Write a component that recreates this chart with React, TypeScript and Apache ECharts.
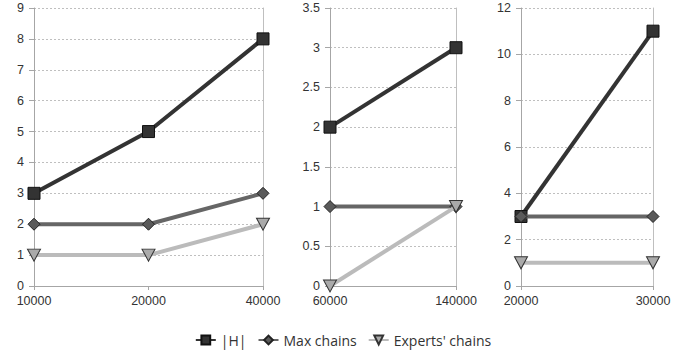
import React, { useEffect, useRef } from "react";
import * as echarts from "echarts";

const cats1 = ["10000", "20000", "40000"];
const h1 = [3, 5, 8];
const max1 = [2, 2, 3];
const exp1 = [1, 1, 2];

const cats2 = ["60000", "140000"];
const h2 = [2, 3];
const max2 = [1, 1];
const exp2 = [0, 1];

const cats3 = ["20000", "30000"];
const h3 = [3, 11];
const max3 = [3, 3];
const exp3 = [1, 1];

const names = ["|H|", "Max chains", "Experts' chains"];
const yMax = [9, 3.5, 12];
const yInterval = [1, 0.5, 2];

const grids = [
  { left: 34, top: 8, width: 229, height: 278 },
  { left: 330, top: 8, width: 126, height: 278 },
  { left: 521, top: 8, width: 132, height: 278 },
];

const tri = "path://M0,0 L12,0 L6,11 Z";

export default function App() {
  const ref = useRef<HTMLDivElement>(null);
  useEffect(() => {
    document.body.style.margin = "0";
    const chart = echarts.init(ref.current!, null, { renderer: "svg" });
    const cats = [cats1, cats2, cats3];
    const hs = [h1, h2, h3];
    const maxs = [max1, max2, max3];
    const exps = [exp1, exp2, exp3];
    const font = "Liberation Sans";
    const xAxis: any[] = [];
    const yAxis: any[] = [];
    const series: any[] = [];
    grids.forEach((g, i) => {
      xAxis.push({
        type: "category",
        gridIndex: i,
        data: cats[i],
        boundaryGap: false,
        axisLine: { lineStyle: { color: "#a6a6a6", width: 1 } },
        axisTick: { show: true, length: 4, lineStyle: { color: "#a6a6a6" } },
        axisLabel: { color: "#333333", fontSize: 12.5, fontFamily: font, margin: 8 },
        splitLine: { show: false },
      });
      yAxis.push({
        type: "value",
        gridIndex: i,
        min: 0,
        max: yMax[i],
        interval: yInterval[i],
        axisLine: { show: true, lineStyle: { color: "#a6a6a6", width: 1 } },
        axisTick: { show: true, length: 5, lineStyle: { color: "#a6a6a6" } },
        axisLabel: { color: "#333333", fontSize: 12.5, fontFamily: font, margin: 10 },
        splitLine: { show: true, lineStyle: { color: "#bfbfbf", type: [2, 2], width: 1 } },
      });
      yAxis.push({
        type: "value",
        gridIndex: i,
        position: "right",
        min: 0,
        max: yMax[i],
        interval: yInterval[i],
        axisLine: { show: true, lineStyle: { color: "#bfbfbf", width: 1 } },
        axisTick: { show: false },
        axisLabel: { show: false },
        splitLine: { show: false },
      });
      const yIdx = i * 2;
      series.push({
        name: names[0],
        type: "line",
        xAxisIndex: i,
        yAxisIndex: yIdx,
        data: hs[i],
        symbol: "rect",
        symbolSize: 12,
        lineStyle: { color: "#333333", width: 4 },
        itemStyle: { color: "#333333", borderColor: "#111111", borderWidth: 1 },
        z: 2,
      });
      series.push({
        name: names[1],
        type: "line",
        xAxisIndex: i,
        yAxisIndex: yIdx,
        data: maxs[i],
        symbol: "diamond",
        symbolSize: 12,
        lineStyle: { color: "#666666", width: 4 },
        itemStyle: { color: "#5a5a5a", borderColor: "#222222", borderWidth: 1 },
        z: 3,
      });
      series.push({
        name: names[2],
        type: "line",
        xAxisIndex: i,
        yAxisIndex: yIdx,
        data: exps[i],
        symbol: tri,
        symbolSize: [13, 12],
        lineStyle: { color: "#bbbbbb", width: 4 },
        itemStyle: { color: "#aaaaaa", borderColor: "#333333", borderWidth: 1 },
        z: 4,
      });
    });
    chart.setOption({
      animation: false,
      backgroundColor: "#ffffff",
      grid: grids,
      xAxis,
      yAxis,
      series,
      legend: {
        data: names,
        top: 328,
        left: "center",
        itemWidth: 20,
        itemHeight: 11,
        itemGap: 11,
        textStyle: { color: "#333333", fontSize: 14, fontFamily: "Open Sans" },
      },
    });
    return () => chart.dispose();
  }, []);
  return <div ref={ref} style={{ width: 686, height: 354 }} />;
}
